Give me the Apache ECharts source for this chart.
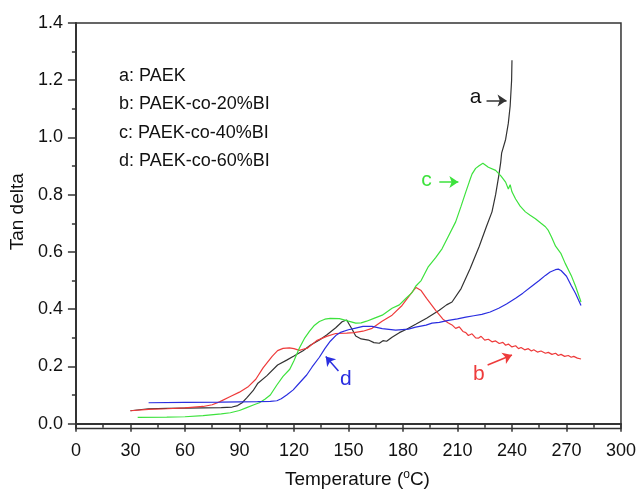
<!DOCTYPE html>
<html>
<head>
<meta charset="utf-8">
<script src="https://cdn.jsdelivr.net/npm/echarts@6/dist/echarts.min.js"></script>
<style>
  html, body { margin: 0; padding: 0; background: #fff; }
  #chart { width: 639px; height: 494px; }
</style>
</head>
<body>
<div id="chart"></div>
<script>
// curve a: PAEK (black)
const tempA = [30, 40, 50, 60, 70, 80, 86, 89, 91.5, 94, 97.5, 100, 105, 111, 116, 120, 125, 129, 134, 138, 143, 146.5, 149, 152, 154, 157, 161, 164, 167, 169, 171, 174, 178, 182, 187, 193, 200, 204, 207, 212, 217, 222, 226, 229, 231, 232.7, 233.8, 234.3, 236.5, 238, 239, 239.8, 240]
const tanA = [0.045, 0.052, 0.053, 0.054, 0.055, 0.056, 0.058, 0.063, 0.073, 0.09, 0.115, 0.14, 0.167, 0.205, 0.222, 0.236, 0.255, 0.274, 0.292, 0.31, 0.335, 0.356, 0.362, 0.33, 0.306, 0.296, 0.292, 0.283, 0.281, 0.29, 0.288, 0.302, 0.318, 0.33, 0.347, 0.368, 0.396, 0.415, 0.425, 0.472, 0.542, 0.62, 0.69, 0.74, 0.8, 0.865, 0.913, 0.945, 0.993, 1.05, 1.11, 1.2, 1.27]

// curve b: PAEK-co-20%BI (red)
const tempB = [30, 40, 50, 60, 70, 75, 79, 85, 90, 95, 99, 103, 108, 111, 114, 117.5, 120, 123, 125, 127.5, 132.5, 138, 143, 149, 153, 158, 163, 168.5, 174, 179.5, 184.5, 187.2, 190, 193, 198, 202, 205, 207, 209, 211, 213, 214.6, 216, 218, 220, 221.7, 223, 225, 227, 229, 231, 233, 235, 236.5, 238, 240, 242, 243.6, 245, 247, 249, 250.7, 252, 254, 256, 258.4, 260, 262, 264, 265.5, 267, 269, 271, 272.6, 274, 276, 278]
const tanB = [0.045, 0.05, 0.052, 0.055, 0.06, 0.066, 0.076, 0.095, 0.11, 0.13, 0.155, 0.195, 0.235, 0.255, 0.263, 0.265, 0.262, 0.256, 0.26, 0.264, 0.29, 0.305, 0.315, 0.316, 0.318, 0.323, 0.333, 0.358, 0.379, 0.413, 0.455, 0.476, 0.465, 0.438, 0.396, 0.365, 0.352, 0.345, 0.333, 0.338, 0.322, 0.318, 0.308, 0.314, 0.3, 0.299, 0.305, 0.292, 0.295, 0.286, 0.289, 0.28, 0.284, 0.274, 0.278, 0.268, 0.272, 0.262, 0.266, 0.258, 0.262, 0.254, 0.258, 0.25, 0.254, 0.246, 0.249, 0.242, 0.246, 0.238, 0.242, 0.235, 0.238, 0.232, 0.235, 0.229, 0.226]

// curve c: PAEK-co-40%BI (green)
const tempC = [34, 50, 60, 70, 80, 85, 90, 94, 98, 101, 104, 107, 110.6, 114, 117.7, 120, 123, 126, 128.6, 131, 134, 137, 140, 145, 150, 154, 157, 160, 164, 168.6, 174, 178, 181.7, 185, 187, 190, 194, 198, 201.5, 205, 209, 212, 214.6, 216.5, 218, 220, 221.7, 224, 227, 231, 234, 236.5, 238, 239, 240, 242, 244.5, 247.4, 250, 252.9, 256, 258.4, 260, 261.7, 264, 267, 269.3, 272.6, 275, 278]
const tanC = [0.022, 0.023, 0.024, 0.028, 0.034, 0.038, 0.046, 0.056, 0.066, 0.073, 0.085, 0.1, 0.135, 0.165, 0.19, 0.22, 0.264, 0.3, 0.323, 0.342, 0.357, 0.365, 0.368, 0.367, 0.358, 0.351, 0.352, 0.358, 0.368, 0.379, 0.403, 0.415, 0.438, 0.458, 0.48, 0.5, 0.549, 0.58, 0.611, 0.655, 0.705, 0.76, 0.81, 0.845, 0.872, 0.892, 0.9, 0.91, 0.896, 0.885, 0.865, 0.844, 0.82, 0.835, 0.81, 0.785, 0.76, 0.74, 0.728, 0.716, 0.7, 0.688, 0.675, 0.653, 0.62, 0.594, 0.56, 0.518, 0.48, 0.425]

// curve d: PAEK-co-60%BI (blue)
const tempD = [40, 60, 80, 100, 107, 110.6, 113, 116, 119.6, 123, 127, 130, 134, 137, 140, 143.4, 146, 150, 154, 158, 163, 168.6, 176, 183, 187, 192.7, 196, 200, 205, 210, 214.6, 219, 223.4, 228, 232.7, 237, 242, 246, 250.7, 255, 258.4, 261, 263.9, 265.5, 267, 270, 272.6, 275, 278]
const tanD = [0.073, 0.074, 0.075, 0.077, 0.078, 0.08, 0.087, 0.1, 0.118, 0.142, 0.17, 0.198, 0.232, 0.262, 0.288, 0.31, 0.32, 0.328, 0.334, 0.34, 0.34, 0.332, 0.327, 0.33, 0.337, 0.344, 0.351, 0.354, 0.361, 0.366, 0.372, 0.377, 0.382, 0.39, 0.403, 0.418, 0.438, 0.456, 0.479, 0.5, 0.518, 0.53, 0.538, 0.54, 0.535, 0.515, 0.483, 0.455, 0.413]

const legendLines = ['a: PAEK', 'b: PAEK-co-20%BI', 'c: PAEK-co-40%BI', 'd: PAEK-co-60%BI']
const yMajor = [0, 0.2, 0.4, 0.6, 0.8, 1.0, 1.2, 1.4]
const yMinor = [0.1, 0.3, 0.5, 0.7, 0.9, 1.1, 1.3]

// annotation letters and arrows, in data units [temperature, tan delta]
const labelPos = { a: [220, 1.14], b: [221.7, 0.174], c: [193, 0.85], d: [148.5, 0.156] }
const arrows = {
  a: [[226, 1.129], [237, 1.129]],
  b: [[226.6, 0.205], [240, 0.24]],
  c: [[200, 0.844], [210.5, 0.844]],
  d: [[144.5, 0.184], [137.5, 0.235]]
}

const FONT = '"Liberation Sans", Arial, sans-serif'
const zip = (xs, ys) => xs.map((x, i) => [x, ys[i]])

const makeSeries = (key, xs, ys, color) => ({
  name: key,
  type: 'line',
  data: zip(xs, ys),
  symbol: 'none',
  lineStyle: { color: color, width: 1.2 },
  itemStyle: { color: color },
  z: 3,
  markLine: {
    silent: true,
    symbol: ['none', 'arrow'],
    symbolSize: 9,
    lineStyle: { color: color, width: 1.5, type: 'solid' },
    itemStyle: { color: color },
    label: { show: false },
    data: [[{ coord: arrows[key][0] }, { coord: arrows[key][1] }]]
  },
  markPoint: {
    silent: true,
    symbol: 'circle',
    symbolSize: 1,
    itemStyle: { color: 'rgba(0,0,0,0)' },
    label: {
      show: true, position: 'inside', formatter: key,
      color: key === 'a' ? '#111' : color, fontSize: 21, fontFamily: FONT
    },
    data: [{ coord: labelPos[key] }]
  }
})

const chart = echarts.init(document.getElementById('chart'))
chart.setOption({
  backgroundColor: '#fff',
  animation: false,
  grid: { left: 75, right: 16, top: 23, bottom: 63, show: true, borderColor: '#333', borderWidth: 1.5, backgroundColor: 'transparent' },
  xAxis: {
    type: 'value', min: 0, max: 300, interval: 30,
    name: 'Temperature ({s|o}C)', nameLocation: 'middle', nameGap: 40,
    nameTextStyle: { color: '#111', fontSize: 19, fontFamily: FONT, padding: [0, 0, 0, 18],
      rich: { s: { fontSize: 12, padding: [0, 0, 10, 0], color: '#111', fontFamily: FONT } } },
    axisLine: { lineStyle: { color: '#333', width: 2 } },
    axisTick: { length: 8, lineStyle: { color: '#333', width: 1.5 } },
    minorTick: { show: true, splitNumber: 2, length: 4, lineStyle: { color: '#333', width: 1.5 } },
    axisLabel: { color: '#111', fontSize: 18, fontFamily: FONT, margin: 14 },
    splitLine: { show: false }
  },
  yAxis: [
    {
      type: 'value', min: -0.017, max: 1.4,
      name: 'Tan delta', nameLocation: 'middle', nameGap: 48,
      nameTextStyle: { color: '#111', fontSize: 19, fontFamily: FONT, padding: [0, 0, 0, 28] },
      axisLine: { show: true, lineStyle: { color: '#333', width: 2 } },
      axisTick: { show: true, customValues: yMajor, length: 8, lineStyle: { color: '#333', width: 1.5 } },
      axisLabel: { customValues: yMajor, color: '#111', fontSize: 18, fontFamily: FONT, margin: 13,
        formatter: v => v.toFixed(1) },
      splitLine: { show: false }
    },
    {
      type: 'value', min: -0.017, max: 1.4, position: 'left',
      axisLine: { show: false },
      axisTick: { show: true, customValues: yMinor, length: 4, lineStyle: { color: '#333', width: 1.5 } },
      axisLabel: { show: false },
      splitLine: { show: false }
    }
  ],
  graphic: legendLines.map((t, i) => ({
    type: 'text', left: 119, top: 67 + i * 28.3,
    style: { text: t, fill: '#111', font: '18px ' + FONT }
  })),
  series: [
    makeSeries('a', tempA, tanA, '#333333'),
    makeSeries('b', tempB, tanB, '#ee3b3b'),
    makeSeries('c', tempC, tanC, '#3de23d'),
    makeSeries('d', tempD, tanD, '#2a2ee0')
  ]
})
</script>
</body>
</html>
